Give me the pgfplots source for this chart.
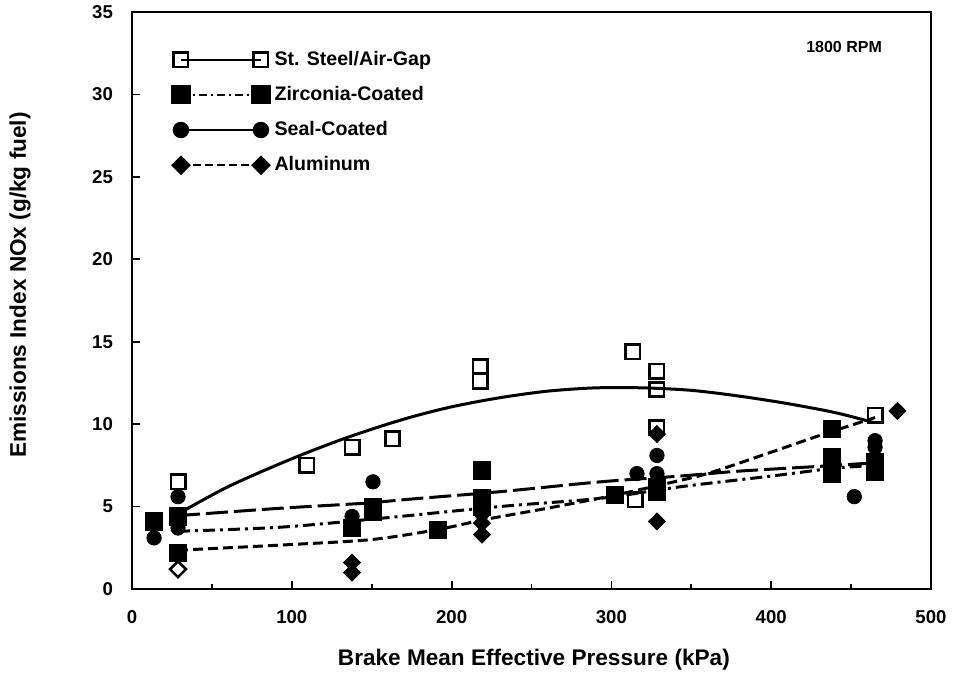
\documentclass[border=0pt]{standalone}
\usepackage{fontspec}
\setmainfont{Liberation Sans}
\usepackage{pgfplots}
\pgfplotsset{compat=1.18}
\begin{document}
\begin{tikzpicture}
\path[use as bounding box] (-66pt,-45.5pt) rectangle (413pt,294.5pt);
\begin{axis}[
  name=ax,
  anchor=south west, at={(0pt,0pt)},
  scale only axis,
  width=399.5pt, height=288.5pt,
  xmin=0, xmax=500, ymin=0, ymax=35,
  xtick={0,100,...,500}, minor xtick={50,150,...,450},
  ytick={0,5,...,35},
  tick align=inside, xtick pos=bottom, ytick pos=left,
  major tick length=4pt, minor tick length=2.5pt,
  axis line style={line width=1.2pt},
  every tick/.style={black, line width=0.9pt},
  /pgf/number format/assume math mode=true,
  tick label style={font=\bfseries\fontsize{9.3}{10}\selectfont},
  xticklabel style={yshift=-7pt},
  yticklabel style={xshift=-6pt},
  xlabel={\bfseries Brake Mean Effective Pressure (kPa)},
  ylabel={\bfseries Emissions Index NOx (g/kg fuel)},
  label style={font=\bfseries\fontsize{11.3}{12}\selectfont},
  xlabel style={at={(axis description cs:0.503,0)}, anchor=center, yshift=-35.5pt},
  ylabel style={at={(axis description cs:-0.14,0.527)}, anchor=center, rotate=0},
  legend style={draw=none, fill=none, at={(axis description cs:0.05,0.94)}, anchor=north west,
    font=\bfseries\fontsize{9.8}{11}\selectfont, row sep=5pt, inner sep=0pt,
    /tikz/every odd column/.append style={column sep=0.5pt}},
  legend cell align=left,
  legend image code/.code={\draw[#1] plot coordinates {(0pt,0pt) (40pt,0pt)};},
  every axis plot/.append style={black},
]
% legend entries
\addlegendimage{line width=1pt, solid, mark=square, mark size=3.6pt, mark options={solid, line width=1.3pt, fill=white}}
\addlegendentry{St. Steel/Air-Gap}
\addlegendimage{line width=1pt, dash pattern=on 4pt off 2pt on 1pt off 2pt, mark=square*, mark size=4.3pt, mark options={solid}}
\addlegendentry{Zirconia-Coated}
\addlegendimage{line width=1pt, solid, mark=*, mark size=3.6pt, mark options={solid}}
\addlegendentry{Seal-Coated}
\addlegendimage{line width=1pt, dash pattern=on 4pt off 2pt, mark=square*, mark size=3pt, mark options={solid, rotate=45}}
\addlegendentry{Aluminum}

% fitted curves
\addplot[forget plot, line width=1.5pt, smooth, no marks] coordinates {
(28.8,4.55) (60,6.2) (100,7.9) (135,9.2) (170,10.3) (200,11.05) (230,11.6) (260,12.0) (290,12.2) (320,12.2) (350,12.05) (380,11.7) (410,11.25) (440,10.7) (464,10.1)};
\addplot[forget plot, line width=1.5pt, smooth, no marks, dash pattern=on 11pt off 3pt] coordinates {
(28.8,4.45) (93,4.9) (145,5.2) (174,5.45) (230,5.9) (293,6.5) (343,6.85) (380,7.15) (432,7.45) (464,7.65)};
\addplot[forget plot, line width=1.5pt, smooth, no marks, dash pattern=on 6pt off 2.5pt on 1.5pt off 2.5pt] coordinates {
(28.8,3.5) (93,3.75) (157,4.3) (230,5.0) (293,5.5) (343,6.2) (400,6.85) (437,7.3) (464,7.5)};
\addplot[forget plot, line width=1.5pt, smooth, no marks, dash pattern=on 5pt off 2.5pt] coordinates {
(28.8,2.35) (100,2.7) (150,3.0) (191,3.6) (220,4.2) (260,4.9) (300,5.65) (330,6.3) (360,7.0) (400,8.3) (430,9.3) (465,10.4)};

% data: St. Steel/Air-Gap
\addplot[forget plot, only marks, mark=square, mark size=3.6pt, mark options={line width=1.3pt, fill=white}] coordinates {
(28.8,6.5) (109.5,7.5) (137.7,8.6) (163,9.1) (218,12.6) (218,13.5) (313.5,14.4) (328.5,13.2) (328.5,12.1) (328.5,9.8) (315,5.4) (465,10.55)};
% Zirconia-Coated
\addplot[forget plot, only marks, mark=square*, mark size=4.3pt] coordinates {
(13.8,4.1) (28.8,4.4) (28.8,2.2) (137.7,3.7) (150.8,4.7) (150.8,5.0) (191.5,3.6) (219,7.2) (219,5.5) (219,5.0) (302,5.7) (328.5,6.2) (328.5,5.9) (438,9.7) (438,8.0) (438,7.0) (465,7.7) (465,7.1)};
% Seal-Coated
\addplot[forget plot, only marks, mark=*, mark size=3.6pt] coordinates {
(13.8,3.1) (28.8,5.6) (28.8,3.7) (137.7,4.4) (150.8,6.5) (219,4.6) (316,7.0) (328.5,8.1) (328.5,7.0) (452,5.6) (465,9.0) (465,8.6)};
% Aluminum
\addplot[forget plot, only marks, mark=square*, mark size=3pt, mark options={rotate=45}] coordinates {
(137.7,1.6) (137.7,1.0) (219,3.3) (219,4.0) (328.5,9.4) (328.5,4.1) (479,10.8)};
\addplot[forget plot, only marks, mark=square, mark size=2.8pt, mark options={rotate=45, line width=1.3pt, fill=white}] coordinates {
(28.8,1.2)};

\node[font=\bfseries\fontsize{8}{9}\selectfont] at (axis cs:445.6,32.9) {1800 RPM};
\end{axis}
\end{tikzpicture}
\end{document}
